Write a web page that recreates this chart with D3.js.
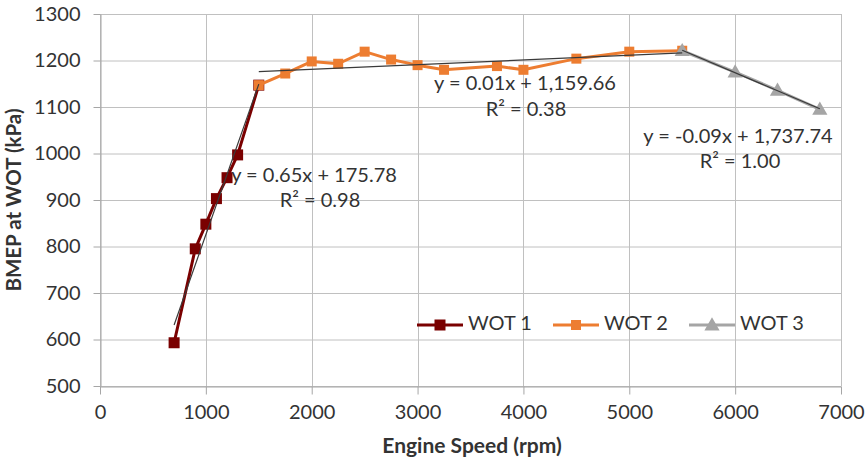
<!DOCTYPE html>
<html>
<head>
<meta charset="utf-8">
<script src="https://cdn.jsdelivr.net/npm/d3@7"></script>
<style>
  body { margin: 0; background: #fff; }
  text { font-family: Lato, "Open Sans", sans-serif; fill: #333; }
</style>
</head>
<body>
<svg id="chart" width="867" height="463"></svg>
<script>
"use strict";

// data (rpm, kPa)
const wot1_rpm = [700, 900, 1000, 1100, 1200, 1300, 1500];
const wot1_bmep = [593, 795, 848, 903, 948, 997, 1147];

const wot2_rpm = [1500, 1750, 2000, 2250, 2500, 2750, 3000, 3250, 3750, 4000, 4500, 5000, 5500];
const wot2_bmep = [1147, 1172, 1198, 1193, 1219, 1202, 1190, 1180, 1188, 1180, 1204, 1219, 1221];

const wot3_rpm = [5500, 6000, 6400, 6800];
const wot3_bmep = [1221, 1175, 1136, 1095];

const series_names = ['WOT 1', 'WOT 2', 'WOT 3'];
const trend_eq = ['y = 0.65x + 175.78', 'y = 0.01x + 1,159.66', 'y = -0.09x + 1,737.74'];
const trend_r2 = ['R² = 0.98', 'R² = 0.38', 'R² = 1.00'];

const x_ticks = [0, 1000, 2000, 3000, 4000, 5000, 6000, 7000];
const y_ticks = [500, 600, 700, 800, 900, 1000, 1100, 1200, 1300];

// layout
const p = {
  left: 100, right: 841, top: 14, bottom: 386,
  colors: ['#7a0000', '#ed7d31', '#a5a5a5'],
  grid: '#c0c0c0',
  trend: '#3a3a3a',
};

const svg = d3.select('#chart');

const x = d3.scaleLinear().domain([0, 7000]).range([p.left, p.right]);
const y = d3.scaleLinear().domain([500, 1300]).range([p.bottom, p.top]);

// grid
svg.append('g')
  .selectAll('line')
  .data(y_ticks)
  .join('line')
  .attr('x1', p.left).attr('x2', p.right)
  .attr('y1', d => y(d) + 0.5).attr('y2', d => y(d) + 0.5)
  .attr('stroke', p.grid);

svg.append('g')
  .selectAll('line')
  .data(x_ticks)
  .join('line')
  .attr('x1', d => Math.round(x(d)) + 0.5).attr('x2', d => Math.round(x(d)) + 0.5)
  .attr('y1', p.top).attr('y2', p.bottom)
  .attr('stroke', p.grid);

// axes
const ax = svg.append('g')
  .attr('transform', `translate(0,${p.bottom + 0.5})`)
  .call(d3.axisBottom(x).tickValues(x_ticks).tickFormat(d3.format('d')).tickSize(8).tickSizeOuter(0));
ax.select('.domain').attr('stroke', '#a6a6a6');
ax.selectAll('.tick line').attr('stroke', '#a6a6a6');
ax.selectAll('.tick text')
  .attr('y', 25).attr('dy', '0.35em')
  .attr('font-size', 20).attr('font-family', 'Lato').attr('fill', '#404040');

const ay = svg.append('g')
  .attr('transform', `translate(${p.left + 0.5},0)`)
  .call(d3.axisLeft(y).tickValues(y_ticks).tickFormat(d3.format('d')).tickSize(7).tickSizeOuter(0));
ay.select('.domain').attr('stroke', '#a6a6a6');
ay.selectAll('.tick line').attr('stroke', '#a6a6a6');
ay.selectAll('.tick text')
  .attr('x', -20)
  .attr('font-size', 20).attr('font-family', 'Lato').attr('fill', '#404040');

// axis titles
svg.append('text')
  .text('Engine Speed (rpm)')
  .attr('x', 472).attr('y', 448)
  .attr('text-anchor', 'middle').attr('dominant-baseline', 'middle')
  .attr('font-size', 21).attr('font-weight', 'bold');

svg.append('text')
  .text('BMEP at WOT (kPa)')
  .attr('transform', 'translate(16,200) rotate(-90)')
  .attr('text-anchor', 'middle').attr('dominant-baseline', 'middle')
  .attr('font-size', 20.5).attr('font-weight', 'bold');

// series
const series = [
  { name: series_names[0], xs: wot1_rpm, ys: wot1_bmep, color: p.colors[0], marker: 'square', size: 11 },
  { name: series_names[1], xs: wot2_rpm, ys: wot2_bmep, color: p.colors[1], marker: 'square', size: 10 },
  { name: series_names[2], xs: wot3_rpm, ys: wot3_bmep, color: p.colors[2], marker: 'triangle', size: 100 },
];

const line = d3.line().x(d => x(d[0])).y(d => y(d[1]));

const draw_marker = (g, s, cx, cy) => {
  if (s.marker === 'square') {
    g.append('rect')
      .attr('x', cx - s.size / 2).attr('y', cy - s.size / 2)
      .attr('width', s.size).attr('height', s.size)
      .attr('fill', s.color);
  } else {
    g.append('path')
      .attr('d', d3.symbol(d3.symbolTriangle, s.size)())
      .attr('transform', `translate(${cx},${cy + 1})`)
      .attr('fill', s.color);
  }
};

series.forEach(s => {
  const pts = s.xs.map((d, i) => [d, s.ys[i]]);
  const g = svg.append('g');
  g.append('path')
    .attr('d', line(pts))
    .attr('fill', 'none')
    .attr('stroke', s.color)
    .attr('stroke-width', 3)
    .attr('stroke-linejoin', 'round');
  pts.forEach(d => draw_marker(g, s, x(d[0]), y(d[1])));
});

// linear trendlines (least squares over each series)
series.forEach(s => {
  const mx = d3.mean(s.xs), my = d3.mean(s.ys);
  const sxy = d3.sum(s.xs, (d, i) => (d - mx) * (s.ys[i] - my));
  const sxx = d3.sum(s.xs, d => (d - mx) * (d - mx));
  const b = sxy / sxx, a = my - b * mx;
  const x0 = d3.min(s.xs), x1 = d3.max(s.xs);
  svg.append('line')
    .attr('x1', x(x0)).attr('y1', y(a + b * x0))
    .attr('x2', x(x1)).attr('y2', y(a + b * x1))
    .attr('stroke', p.trend)
    .attr('stroke-width', 1.2);
});

// trendline labels
const label_pos = [[314, 177, 320, 202], [525, 85, 526, 111], [738, 138, 740, 163]];
label_pos.forEach((d, i) => {
  svg.append('text').text(trend_eq[i])
    .attr('x', d[0]).attr('y', d[1])
    .attr('text-anchor', 'middle').attr('dominant-baseline', 'middle')
    .attr('font-size', 20);
  svg.append('text').text(trend_r2[i])
    .attr('x', d[2]).attr('y', d[3])
    .attr('text-anchor', 'middle').attr('dominant-baseline', 'middle')
    .attr('font-size', 20);
});

// legend
const legend_x = [417, 553, 689];
series.forEach((s, i) => {
  const g = svg.append('g').attr('transform', `translate(${legend_x[i]},325)`);
  g.append('line')
    .attr('x1', 0).attr('x2', 46)
    .attr('stroke', s.color).attr('stroke-width', 3);
  draw_marker(g, s, 23, 0);
  g.append('text').text(s.name)
    .attr('x', 51).attr('y', 0)
    .attr('dominant-baseline', 'middle')
    .attr('font-size', 20);
});
</script>
</body>
</html>
